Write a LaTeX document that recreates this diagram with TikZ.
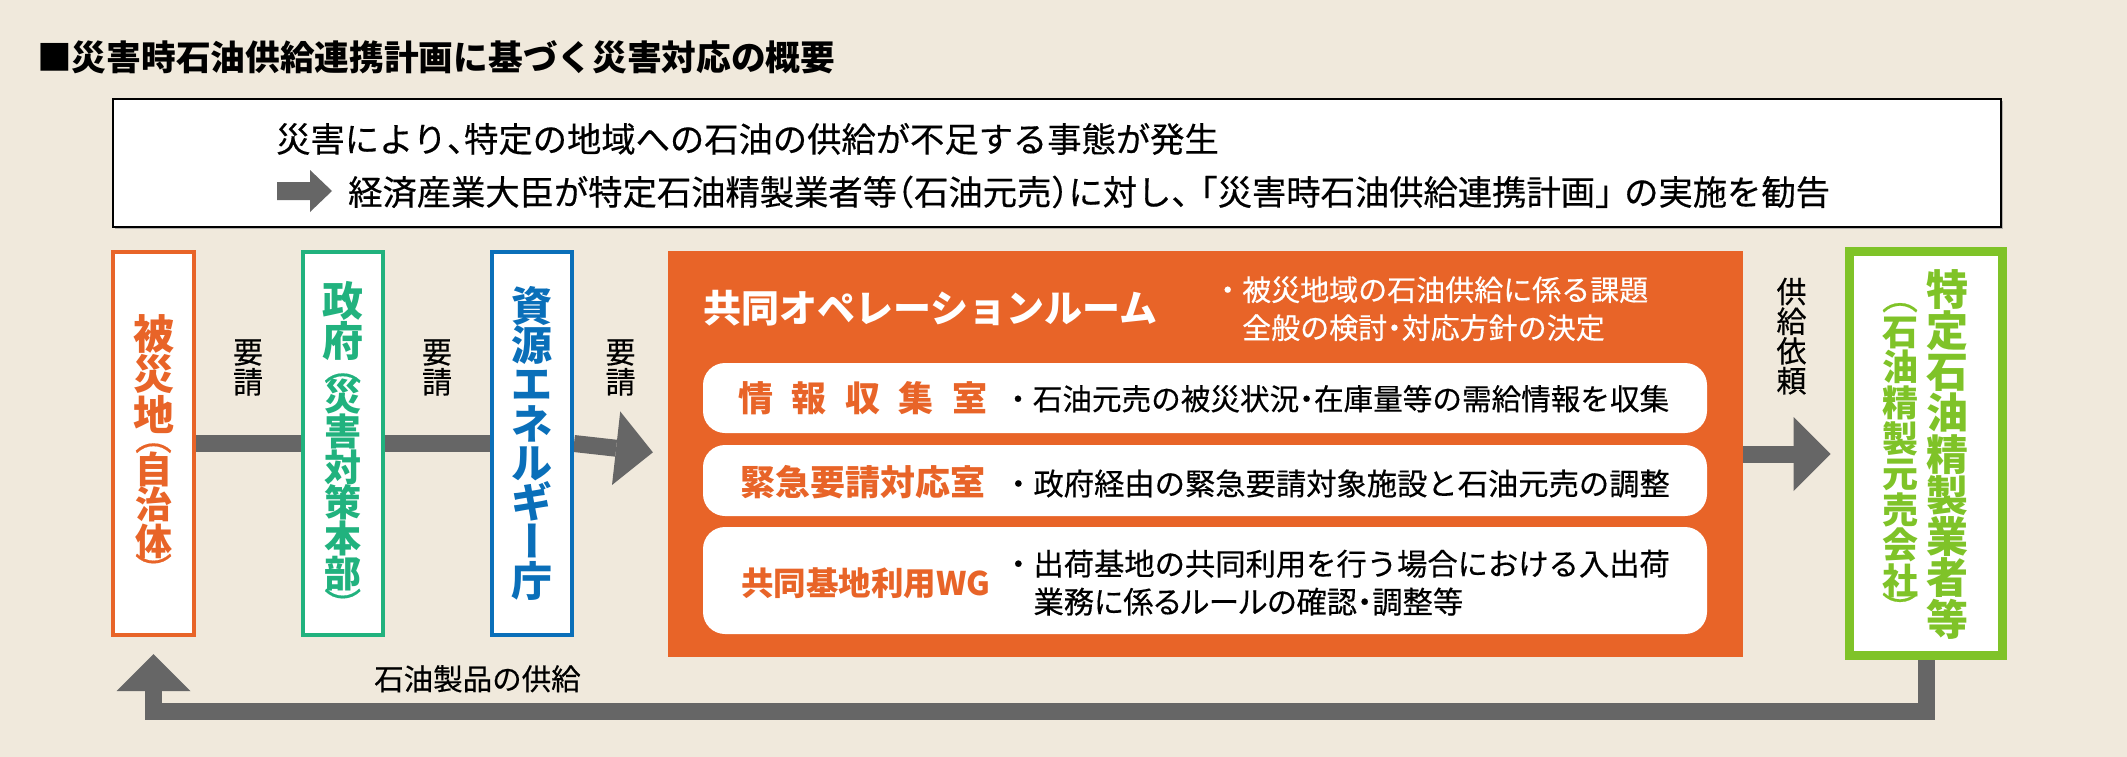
\documentclass[tikz,border=0pt]{standalone}
\usepackage{fontspec}
\setmainfont{Noto Sans CJK JP}[UprightFeatures={FakeBold=0.4}]
\usepackage{graphicx}
\usetikzlibrary{arrows.meta,shadows}
\definecolor{bgc}{HTML}{F0E9DC}
\definecolor{orn}{HTML}{E86428}
\definecolor{grn}{HTML}{21B27E}
\definecolor{blu}{HTML}{0A6FB9}
\definecolor{lim}{HTML}{7FC328}
\definecolor{gry}{HTML}{666666}
\lineskiplimit=-1000pt
\lineskip=0pt
\newcommand{\vrot}[1]{\smash{\raisebox{0.38em}{\rotatebox[origin=c]{-90}{\raisebox{-0.38em}[0.5em][0.5em]{#1}}}}}
\newcommand{\vpar}[1]{\vrot{\mdseries #1}}
\newcommand{\subch}[1]{{\fontsize{37}{37}\selectfont #1}}
\newcommand{\pl}[2][0.5em]{\makebox[#1][r]{#2}}% punctuation with ink at right
\newcommand{\pr}[2][0.5em]{\makebox[#1][l]{#2}}% punctuation with ink at left
\newcommand{\nd}{\makebox[0.5em][c]{・}}
\pgfdeclarelayer{back}
\pgfdeclarelayer{bg}
\pgfsetlayers{back,bg,main}
\begin{document}
\begin{tikzpicture}[x=1pt,y=-1pt,
  tallbox/.style={draw=#1, line width=4pt, fill=white, minimum width=81pt, minimum height=383pt, inner sep=0pt},
  coltext/.style={anchor=north, inner sep=0pt, align=center},
  plain/.style={inner sep=0pt, anchor=base west},
  shaft/.style={draw=gry, line width=17pt, line join=miter},
  bigtip/.style={-{Triangle[length=37pt,width=74pt,line width=0pt]}},
  wbox/.style={fill=white, rounded corners=22pt, minimum width=1004pt, inner sep=0pt},
]
\lineskiplimit=-1000pt\lineskip=0pt
\useasboundingbox (0,0) rectangle (2127,757);
\begin{pgfonlayer}{back}
\fill[bgc] (0,0) rectangle (2127,757);
\end{pgfonlayer}

% title
\node[plain, font=\bfseries\fontsize{34.7}{40}\selectfont] (title) at (37,70.5) {■災害時石油供給連携計画に基づく災害対応の概要};

% top box
\node[draw=black, line width=2pt, fill=white, minimum width=1888pt, minimum height=128pt, inner sep=0pt,
      drop shadow={shadow xshift=2pt, shadow yshift=-2pt, fill=black!45, opacity=0.6}] (tb) at (1057,163) {};
\node[plain, font=\fontsize{34.3}{40}\selectfont] (l1) at (276,152) {災害により\pr{、}特定の地域への石油の供給が不足する事態が発生};
\fill[gry] (277,182) -- (310,182) -- (310,170) -- (332,191) -- (310,212) -- (310,200) -- (277,200) -- cycle;
\node[plain, font=\fontsize{34.3}{40}\selectfont] (l2) at (348,205) {経済産業大臣が特定石油精製業者等\pl{（}石油元売\pr{）}に対し\pr{、}\pl[0.85em]{「}災害時石油供給連携計画\pr[0.85em]{」}の実施を勧告};

% tall boxes
\node[tallbox=orn] (b1) at (153.5,443.5) {};
\node[tallbox=grn, minimum width=80.5pt] (b2) at (342.75,443.5) {};
\node[tallbox=blu, minimum width=80pt] (b3) at (532,443.5) {};
\node[fill=orn, minimum width=1075pt, minimum height=406pt, inner sep=0pt] (op) at (1205.5,454) {};
\node[draw=lim, line width=9pt, fill=white, minimum width=153pt, minimum height=404pt, inner sep=0pt] (sp) at (1926,453.5) {};

% vertical texts
\node[coltext, text=orn, font=\bfseries\fontsize{41}{40}\selectfont] (t1) at (153.5,309)
 {\mbox{}\\被\\[0.5pt]災\\[0.5pt]地\\[-20pt]\subch{\vpar{（}}\\[-6.5pt]\subch{自}\\[-5pt]\subch{治}\\[-2.8pt]\subch{体}\\[-11.2pt]\subch{\vpar{）}}};
\node[coltext, text=grn, font=\bfseries\fontsize{41}{40}\selectfont] (t2) at (342.75,276)
 {\mbox{}\\政\\府\\[-16pt]\subch{\vpar{（}}\\[-10pt]\subch{災}\\[-4.5pt]\subch{害}\\[-4.5pt]\subch{対}\\[-4.5pt]\subch{策}\\[-4.5pt]\subch{本}\\[-4.5pt]\subch{部}\\[-8pt]\subch{\vpar{）}}};
\node[coltext, text=blu, font=\bfseries\fontsize{41}{39.3}\selectfont] (t3) at (532,281.7)
 {\mbox{}\\資\\源\\エ\\ネ\\ル\\ギ\\\vrot{ー}\\庁};
\node[coltext, text=lim, font=\bfseries\fontsize{42}{41.25}\selectfont] (t4) at (1947,263.75)
 {\mbox{}\\特\\定\\石\\油\\精\\製\\業\\者\\等};
\node[coltext, text=lim, font=\bfseries\fontsize{36}{35.6}\selectfont] (t5) at (1900,277.9)
 {\mbox{}\\[-4pt]\vpar{（}\\[-0.1pt]石\\油\\精\\製\\元\\売\\会\\社\\[-7.3pt]\vpar{）}};

% connector labels
\node[coltext, font=\fontsize{30}{30}\selectfont] (r1) at (248,333) {\mbox{}\\要\\請};
\node[coltext, font=\fontsize{30}{30}\selectfont] (r2) at (437,333) {\mbox{}\\要\\請};
\node[coltext, font=\fontsize{30}{30}\selectfont] (r3) at (620.5,333) {\mbox{}\\要\\請};
\node[coltext, font=\fontsize{30}{29.7}\selectfont] (r4) at (1791.5,273) {\mbox{}\\供\\給\\依\\頼};
\node[plain, font=\fontsize{29.5}{36}\selectfont] (r5) at (374,690) {石油製品の供給};

% orange room contents
\node[plain, text=white, font=\bfseries\fontsize{38}{44}\selectfont] (oh) at (703,322) {共同オペレーションルーム};
\node[anchor=north west, inner sep=0pt, align=left, text=white, font=\fontsize{29}{38}\selectfont] (ob) at (1213,262.5)
 {\mbox{}\\・被災地域の石油供給に係る課題\\\hskip1em 全般の検討\nd 対応方針の決定};

\node[wbox, minimum height=70pt] (wa) at (1205,398) {};
\node[wbox, minimum height=71pt] (wb) at (1205,480.5) {};
\node[wbox, minimum height=107pt] (wc) at (1205,580.5) {};

\node[plain, text=orn, font=\bfseries\fontsize{35}{40}\selectfont] (la) at (738,411) {情\hspace{18.5pt}報\hspace{18.5pt}収\hspace{18.5pt}集\hspace{18.5pt}室};
\node[plain, font=\fontsize{29.6}{36}\selectfont] (ta) at (1003,410) {・石油元売の被災状況\nd 在庫量等の需給情報を収集};
\node[plain, text=orn, font=\bfseries\fontsize{35}{40}\selectfont] (lb) at (740,495) {緊急要請対応室};
\node[plain, font=\fontsize{30.3}{36}\selectfont] (tbb) at (1003,495) {・政府経由の緊急要請対象施設と石油元売の調整};
\node[plain, text=orn, font=\bfseries\fontsize{32.5}{40}\selectfont] (lc) at (741,595) {共同基地利用WG};
\node[anchor=north west, inner sep=0pt, align=left, font=\fontsize{30.3}{38}\selectfont] (tc) at (1003,537)
 {\mbox{}\\・出荷基地の共同利用を行う場合における入出荷\\\hskip1em{\addfontfeature{RawFeature=+palt}業務に係るルールの確認・調整等}};

% connectors
\coordinate (ret) at (0,711.5);
\begin{pgfonlayer}{bg}
\draw[shaft] (b1.east) -- (b2.west);
\draw[shaft] (b2.east) -- (b3.west);
\draw[shaft, bigtip, shorten >=15pt] (b3.east) -- (op.west);
\draw[shaft, bigtip, shorten >=14.5pt] (op.east) -- (op.east -| sp.west);
\draw[shaft, bigtip, shorten >=17pt] (sp.south) -- (sp.south |- ret) -- (b1.south |- ret) -- (b1.south);
\end{pgfonlayer}
\end{tikzpicture}
\end{document}
